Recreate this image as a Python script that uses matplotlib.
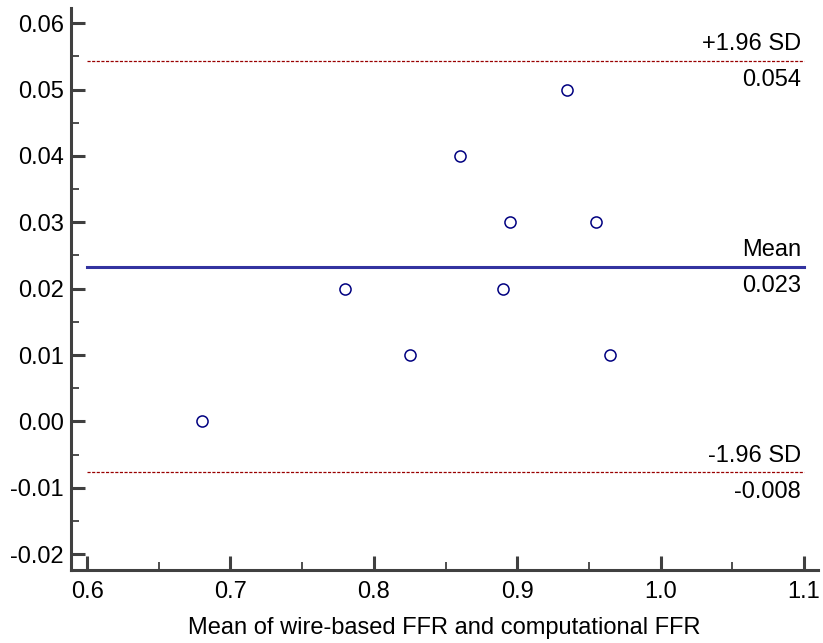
import numpy as np
import matplotlib
matplotlib.use("Agg")
import matplotlib.pyplot as plt
from matplotlib.ticker import MultipleLocator, FormatStrFormatter

plt.rcParams['font.family'] = ['Liberation Sans', 'DejaVu Sans']

# Mean of the two FFR measurements and their difference for each vessel
mean_ffr = [0.68, 0.78, 0.825, 0.86, 0.89, 0.895, 0.935, 0.955, 0.965]
diff_ffr = [0.00, 0.02, 0.01, 0.04, 0.02, 0.03, 0.05, 0.03, 0.01]

x_ticks = [0.6, 0.7, 0.8, 0.9, 1.0, 1.1]
y_ticks = [-0.02, -0.01, 0.00, 0.01, 0.02, 0.03, 0.04, 0.05, 0.06]

d = np.array(diff_ffr)
bias = d.mean()
sd = d.std(ddof=1)
upper = bias + 1.96 * sd
lower = bias - 1.96 * sd

fig = plt.figure(figsize=(8.23, 6.43), dpi=100)
ax = fig.add_axes([0.0863, 0.1135, 0.9076, 0.8741])

ax.set_xlim(0.5888, 1.1098)
ax.set_ylim(-0.0224, 0.0623)

spine_col = '#404040'
for side in ('top', 'right'):
    ax.spines[side].set_visible(False)
for side in ('left', 'bottom'):
    ax.spines[side].set_color(spine_col)
    ax.spines[side].set_linewidth(2.2)

ax.xaxis.set_major_locator(plt.FixedLocator(x_ticks))
ax.yaxis.set_major_locator(plt.FixedLocator(y_ticks))
ax.xaxis.set_minor_locator(MultipleLocator(0.05))
ax.yaxis.set_minor_locator(MultipleLocator(0.005))
ax.xaxis.set_major_formatter(FormatStrFormatter('%.1f'))
ax.yaxis.set_major_formatter(FormatStrFormatter('%.2f'))

ax.tick_params(which='major', direction='in', length=10, width=2.2,
               color=spine_col, labelsize=17, pad=5)
ax.tick_params(axis='x', which='major', pad=8)
ax.tick_params(which='minor', direction='in', length=6, width=1.3,
               color=spine_col)

x0, x1 = x_ticks[0], x_ticks[-1]
ax.plot([x0, x1], [upper, upper], color='#990000', lw=0.9, ls=(0, (2.5, 1.2)))
ax.plot([x0, x1], [lower, lower], color='#990000', lw=0.9, ls=(0, (2.5, 1.2)))
ax.plot([x0, x1], [bias, bias], color='#3333a0', lw=2.2)

ax.plot(mean_ffr, diff_ffr, 'o', mfc='none', mec='#000080', mew=1.1,
        ms=8, ls='none')

labels = [(upper, '+1.96 SD'), (bias, 'Mean'), (lower, '-1.96 SD')]
for y, name in labels:
    ax.annotate(name, xy=(x1, y), xytext=(-2, 4), textcoords='offset points',
                ha='right', va='bottom', fontsize=17)
    ax.annotate(f'{y:.3f}', xy=(x1, y), xytext=(-2, -6),
                textcoords='offset points', ha='right', va='top', fontsize=17)

ax.set_xlabel('Mean of wire-based FFR and computational FFR', fontsize=17,
              labelpad=10)

fig.savefig('out.png', dpi=100)
